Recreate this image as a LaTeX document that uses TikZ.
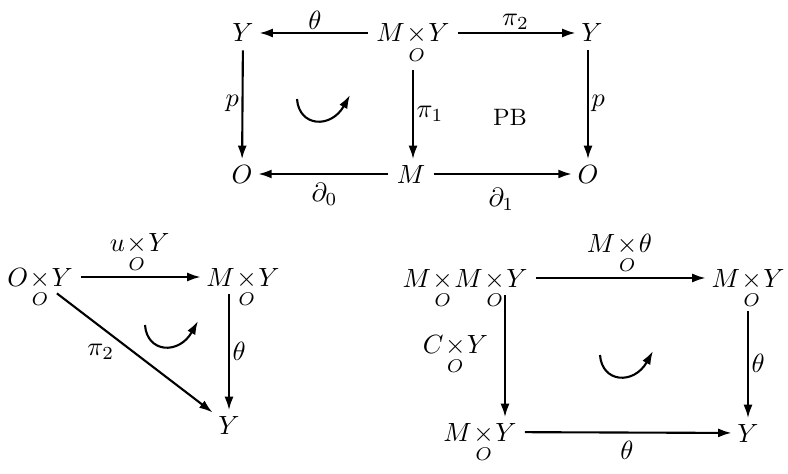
\documentclass[tikz,border=0pt]{standalone}
\usepackage{amsmath,amssymb}
\usepackage{tikz}
\usetikzlibrary{arrows.meta}

% fibre product over O, depth hidden so arrows meet the letters
\newcommand{\fib}[2]{\smash[b]{#1\underset{O}{\times}#2}}

\begin{document}
\begin{tikzpicture}[
    x=0.01333cm, y=-0.01333cm,
    obj/.style={inner sep=2pt, font={\medmuskip=1mu}},
    lab/.style={inner sep=1pt, font={\medmuskip=1mu}},
    arrow/.style={-{Latex[length=1.8mm,width=1.2mm]}, thick, shorten <=1pt},
    rotarrow/.pic={\draw[-{Latex[length=1.8mm,width=1.2mm]}, thick] (0,0) .. controls (2,28) and (34,30) .. (53,-4);},
]
\useasboundingbox (0,0) rectangle (788,474);

% Top square (pullback)
\node[obj] (Yl) at (243,33) {$Y$};
\node[obj] (MY) at (413,33) {$\fib{M}{Y}$};
\node[obj] (Yr) at (592,33) {$Y$};
\node[obj] (Ol) at (242,174) {$O$};
\node[obj] (M) at (411,174) {$M$};
\node[obj] (Or) at (588,174) {$O$};
\node[font=\small] (PB) at (510,117) {PB};
\pic at (297,99) {rotarrow};

\draw[arrow] (MY) -- (Yl) node[midway, above, lab] {$\theta$};
\draw[arrow] (MY) -- (Yr) node[midway, above, lab] {$\pi_2$};
\draw[arrow] (Yl) -- (Ol) node[midway, left, lab] {$p$};
\draw[arrow] ([yshift=-7.5pt]MY.south) -- (MY.south |- M.north) node[midway, right, lab] {$\pi_1$};
\draw[arrow] (Yr.south -| Or.north) -- (Or.north) node[midway, right, lab] {$p$};
\draw[arrow] (M) -- (Ol) node[midway, below=2pt, lab] {$\partial_0$};
\draw[arrow] (M) -- (Or) node[midway, below=4pt, lab] {$\partial_1$};

% Bottom left triangle
\node[obj] (OY) at (40,277) {$\fib{O}{Y}$};
\node[obj] (MYa) at (243,277) {$\fib{M}{Y}$};
\node[obj] (Yb) at (229,425) {$Y$};
\pic at (145,325) {rotarrow};

\draw[arrow] (OY) -- (MYa) node[midway, above, lab] {$u\underset{O}{\times}Y$};
\draw[arrow] (MYa.south -| Yb.north) -- (Yb.north) node[midway, right, lab] {$\theta$};
\draw[arrow] (OY.-45) -- (Yb) node[midway, left=6pt, lab] {$\pi_2$};

% Bottom right square
\node[obj] (MMY) at (465,278) {$\smash[b]{M\underset{O}{\times}M\underset{O}{\times}Y}$};
\node[obj] (MYb) at (748,278) {$\fib{M}{Y}$};
\node[obj] (MYc) at (480,432) {$\fib{M}{Y}$};
\node[obj] (Yc) at (748,433) {$Y$};
\pic at (600,355) {rotarrow};

\draw[arrow] (MMY) -- (MYb) node[midway, above, lab] {$M\underset{O}{\times}\theta$};
\draw[arrow] ([shift={(40,0)}]MMY.south) -- ([shift={(25,0)}]MYc.north) node[midway, left=5pt, lab] {$C\underset{O}{\times}Y$};
\draw[arrow] ([yshift=-6pt]MYb.south) -- (Yc.north) node[midway, right, lab] {$\theta$};
\draw[arrow] (MYc) -- (Yc) node[midway, below=2pt, lab] {$\theta$};

\end{tikzpicture}
\end{document}
